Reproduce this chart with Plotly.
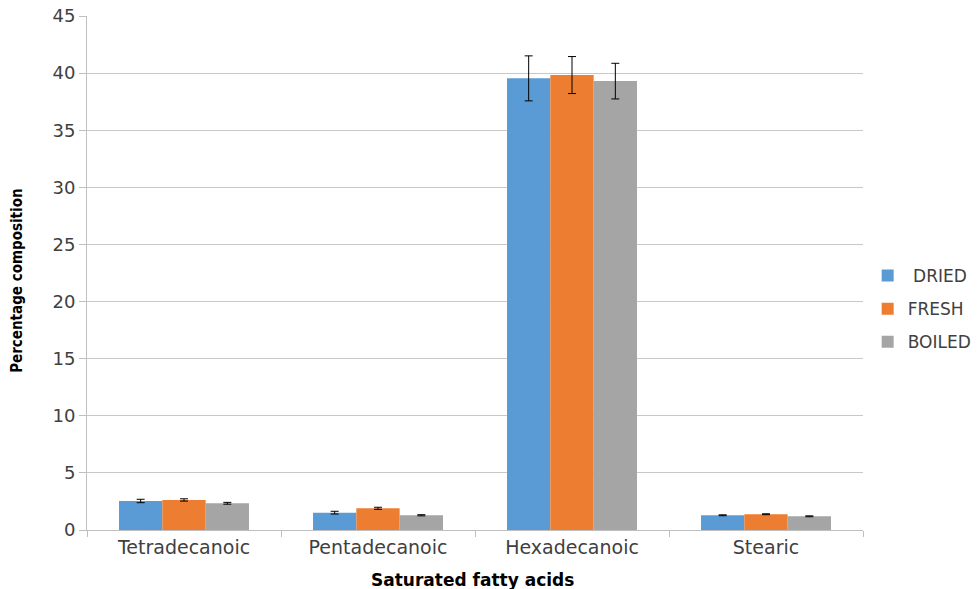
import plotly.graph_objects as go

categories = ["Tetradecanoic", "Pentadecanoic", "Hexadecanoic", "Stearic"]
series_names = [" DRIED", "FRESH", "BOILED"]
dried = [2.54, 1.52, 39.54, 1.29]
fresh = [2.63, 1.90, 39.83, 1.38]
boiled = [2.34, 1.29, 39.30, 1.20]
dried_err = [0.15, 0.12, 1.97, 0.04]
fresh_err = [0.10, 0.09, 1.62, 0.04]
boiled_err = [0.08, 0.05, 1.56, 0.04]
colors = ["#5B9BD5", "#ED7D31", "#A5A5A5"]

fig = go.Figure()
for i, (name, vals, errs, col) in enumerate(zip(series_names, [dried, fresh, boiled],
                                 [dried_err, fresh_err, boiled_err], colors)):
    fig.add_trace(go.Bar(
        x=categories, y=vals, name=name, marker_color=col,
        marker_line_width=0, legendgroup="g%d" % i,
        error_y=dict(type="data", array=errs, color="black", thickness=1, width=4),
    ))

tick_font = "DejaVu Sans, Verdana, sans-serif"
fig.update_layout(
    width=977, height=589,
    margin=dict(l=87, r=114, t=16, b=59, autoexpand=False),
    paper_bgcolor="white", plot_bgcolor="white",
    barmode="group", bargap=0.33, bargroupgap=0,
    font=dict(family=tick_font, size=17, color="#404040"),
    legend=dict(x=1.006, y=0.43, xanchor="left", yanchor="middle",
                font=dict(family=tick_font, size=17, color="#404040"), tracegroupgap=8,
                itemsizing="constant"),
    xaxis=dict(
        automargin=False,
        showline=True, linecolor="#bfbfbf", linewidth=1,
        ticks="outside", tickson="boundaries", ticklen=6, tickcolor="#bfbfbf",
        tickfont=dict(family=tick_font, size=19, color="#404040"),
    ),
    yaxis=dict(
        automargin=False,
        range=[0, 45], dtick=5, showgrid=True, gridcolor="#c8c8c8", gridwidth=1,
        showline=True, linecolor="#bfbfbf", linewidth=1,
        ticks="outside", ticklen=7, tickcolor="#bfbfbf",
        tickfont=dict(family=tick_font, size=18, color="#404040"),
        zeroline=False,
    ),
    annotations=[
        dict(text="<b>Saturated fatty acids</b>", xref="paper", yref="paper",
             x=0.497, y=-0.097, yanchor="middle", xanchor="center", showarrow=False,
             font=dict(family="DejaVu Sans, sans-serif", size=17, color="black")),
        dict(text="<b>Percentage composition</b>", xref="paper", yref="paper",
             x=-0.09, y=0.485, xanchor="center", yanchor="middle", textangle=-90,
             showarrow=False,
             font=dict(family="DejaVu Sans Condensed, Open Sans, sans-serif", size=15, color="black")),
    ],
)

fig.write_html("out.html", config={"displayModeBar": False},
               post_script="document.body.style.margin='0';document.body.style.padding='0';window.dispatchEvent(new Event('resize'));")
